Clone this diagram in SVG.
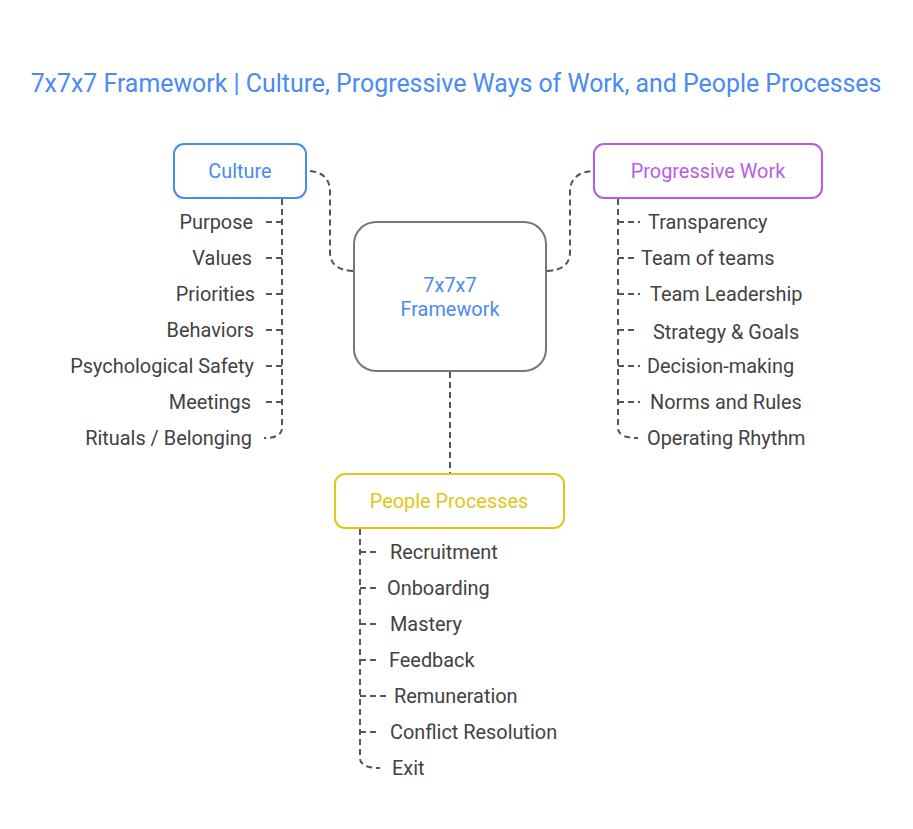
<svg xmlns="http://www.w3.org/2000/svg" width="913" height="829" viewBox="0 0 913 829">
<style>
text{font-family:Roboto,"Liberation Sans",sans-serif}
.title{font-size:24.9px;fill:#4a8af4}
.box{fill:#fff;stroke-width:2}
.lbl{font-size:19.9px;text-anchor:middle;dominant-baseline:central}
.item{font-size:19.9px;fill:#424242;dominant-baseline:central}
.c{fill:none;stroke:#555;stroke-width:2;stroke-dasharray:6 4}
</style>
<rect width="913" height="829" fill="#fff"/>
<text class="title" x="456" y="92" text-anchor="middle">7x7x7 Framework | Culture, Progressive Ways of Work, and People Processes</text>
<g id="connectors">
<path class="c" d="M310,171 Q330,173 330,192 L330,252 Q330,270 353,271"/>
<path class="c" d="M547,271 Q570,270 570,252 L570,192 Q570,173 592,171"/>
<path class="c" d="M450,372 L450,473"/>
<path class="c" d="M282,199 L282,428 Q282,438 264,438"/>
<path class="c" d="M282,222 H264 M282,258 H264 M282,294 H264 M282,330 H264 M282,366 H264 M282,402 H264"/>
<path class="c" d="M618,199 L618,428 Q618,438 638,438"/>
<path class="c" d="M618,222 H640 M618,258 H634 M618,294 H640 M618,330 H636 M618,366 H640 M618,402 H640"/>
<path class="c" d="M360,529 L360,758 Q360,768 380,768"/>
<path class="c" d="M360,552 H380 M360,588 H380 M360,624 H380 M360,660 H380 M360,696 H386 M360,732 H380"/>
</g>
<g id="center">
<rect class="box" x="354" y="222" width="192" height="149" rx="22" stroke="#777"/>
<text class="lbl" x="450" y="285" fill="#4a8af4">7x7x7</text>
<text class="lbl" x="450" y="309" fill="#4a8af4">Framework</text>
</g>
<g id="culture">
<rect class="box" x="174" y="144" width="132" height="54" rx="10" stroke="#4a8af4"/>
<text class="lbl" x="240" y="171" fill="#4a8af4">Culture</text>
</g>
<g id="progressive">
<rect class="box" x="594" y="144" width="228" height="54" rx="10" stroke="#b75ce6"/>
<text class="lbl" x="708" y="171" fill="#b75ce6">Progressive Work</text>
</g>
<g id="people">
<rect class="box" x="335" y="474" width="229" height="54" rx="10" stroke="#e3c514"/>
<text class="lbl" x="449" y="501" fill="#e3c514">People Processes</text>
</g>
<g id="culture-items" text-anchor="end">
<text class="item" x="253" y="222">Purpose</text>
<text class="item" x="252" y="258">Values</text>
<text class="item" x="255" y="294">Priorities</text>
<text class="item" x="254" y="330">Behaviors</text>
<text class="item" x="254" y="366">Psychological Safety</text>
<text class="item" x="251" y="402">Meetings</text>
<text class="item" x="252" y="438">Rituals / Belonging</text>
</g>
<g id="progressive-items">
<text class="item" x="648" y="222">Transparency</text>
<text class="item" x="641" y="258">Team of teams</text>
<text class="item" x="650" y="294">Team Leadership</text>
<text class="item" x="653" y="332">Strategy &amp; Goals</text>
<text class="item" x="647" y="366">Decision-making</text>
<text class="item" x="650" y="402">Norms and Rules</text>
<text class="item" x="647" y="438">Operating Rhythm</text>
</g>
<g id="people-items">
<text class="item" x="390" y="552">Recruitment</text>
<text class="item" x="387" y="588">Onboarding</text>
<text class="item" x="390" y="624">Mastery</text>
<text class="item" x="389" y="660">Feedback</text>
<text class="item" x="394" y="696">Remuneration</text>
<text class="item" x="390" y="732">Conflict Resolution</text>
<text class="item" x="392" y="768">Exit</text>
</g>
</svg>
